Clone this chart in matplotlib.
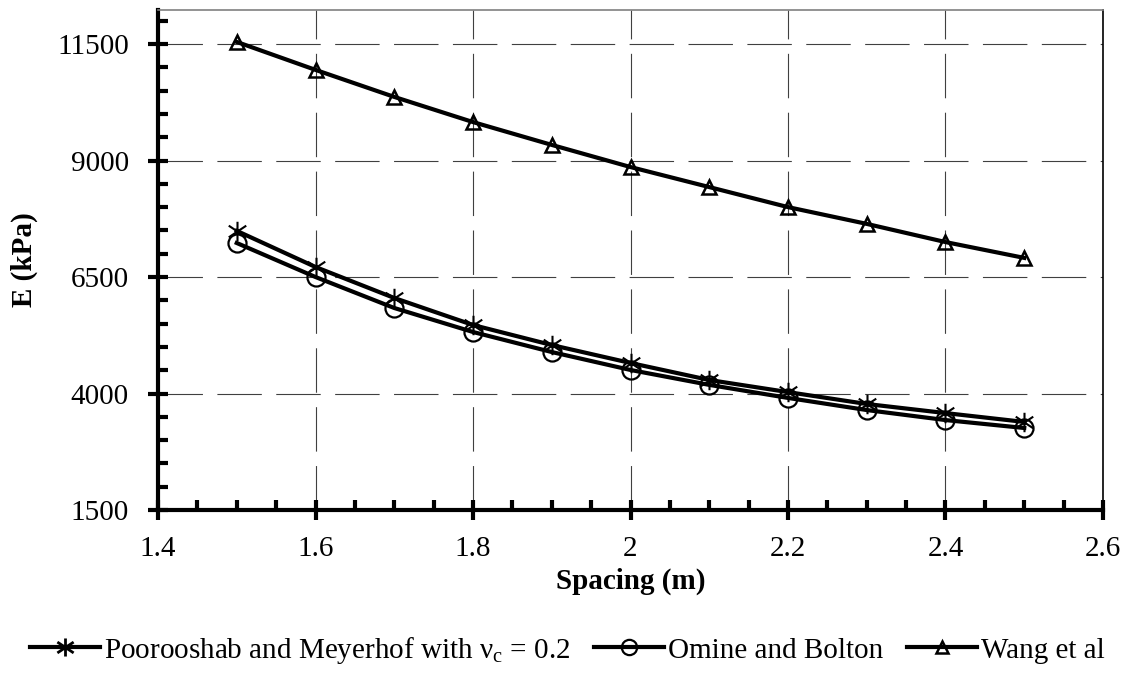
import matplotlib
matplotlib.use("Agg")
import matplotlib.pyplot as plt
from matplotlib.path import Path
from matplotlib.ticker import MultipleLocator

plt.rcParams['font.family'] = ['Liberation Serif', 'DejaVu Serif']
plt.rcParams['mathtext.fontset'] = 'stix'

spacing = [1.5, 1.6, 1.7, 1.8, 1.9, 2.0, 2.1, 2.2, 2.3, 2.4, 2.5]
poorooshab = [7490, 6715, 6050, 5470, 5040, 4655, 4290, 4030, 3775, 3580, 3390]
omine = [7230, 6500, 5835, 5320, 4890, 4505, 4185, 3905, 3645, 3430, 3260]
wang = [11545, 10945, 10365, 9825, 9335, 8860, 8430, 8000, 7640, 7250, 6910]

y_ticks = [1500, 4000, 6500, 9000, 11500]
x_ticks = [1.4, 1.6, 1.8, 2.0, 2.2, 2.4, 2.6]
x_ticklabels = ['1.4', '1.6', '1.8', '2', '2.2', '2.4', '2.6']

labels = [r"Poorooshab and Meyerhof with $\mathregular{\nu_c}$ = 0.2",
          "Omine and Bolton", "Wang et al"]

star = Path([(0, -1), (0, 1), (-0.9, -0.6), (0.9, 0.6), (-0.9, 0.6), (0.9, -0.6)],
            [Path.MOVETO, Path.LINETO, Path.MOVETO, Path.LINETO, Path.MOVETO, Path.LINETO])

fig = plt.figure(figsize=(11.35, 6.77), dpi=100)
ax = fig.add_axes([158/1135, 1 - 510/677, (1103-158)/1135, 500/677])

lw = 3.0
ax.plot(spacing, poorooshab, color='black', lw=lw, marker=star, markersize=14,
        markerfacecolor='none', markeredgewidth=1.5, label=labels[0], zorder=3)
ax.plot(spacing, omine, color='black', lw=lw, marker='o', markersize=13,
        markerfacecolor='none', markeredgewidth=1.6, label=labels[1], zorder=3)
ax.plot(spacing, wang, color='black', lw=lw, marker='^', markersize=10,
        markerfacecolor='none', markeredgewidth=1.8, label=labels[2], zorder=3)

ax.set_xlim(1.4, 2.6)
ax.set_ylim(1500, 12230)
ax.set_xticks(x_ticks)
ax.set_xticklabels(x_ticklabels)
ax.xaxis.set_minor_locator(MultipleLocator(0.05))
ax.set_yticks(y_ticks)
ax.set_yticklabels([str(v) for v in y_ticks])
ax.yaxis.set_minor_locator(MultipleLocator(500))

ax.grid(True, which='major', color='#404040', lw=0.8, dashes=(40, 13))

for s in ['left', 'bottom']:
    ax.spines[s].set_linewidth(3)
    ax.spines[s].set_color('black')
ax.spines['top'].set_color('#808080')
ax.spines['top'].set_linewidth(1.2)
ax.spines['right'].set_color('black')
ax.spines['right'].set_linewidth(1.2)

ax.tick_params(which='major', direction='inout', length=14, width=3, labelsize=21,
               color='black')
ax.tick_params(axis='y', which='major', pad=14)
ax.tick_params(axis='x', which='major', pad=12)
ax.tick_params(which='minor', direction='in', length=7, width=3, color='black')
ax.tick_params(top=False, right=False, which='both')

ax.set_xlabel('Spacing (m)', fontsize=21, fontweight='bold', labelpad=4)
ax.set_ylabel('E (kPa)', fontsize=21, fontweight='bold', labelpad=14)

leg = fig.legend(loc='center', bbox_to_anchor=(0.5, 1 - 650/677), ncol=3,
                 frameon=False, fontsize=21, handlelength=2.4, handletextpad=0.15,
                 columnspacing=0.8)
for h, ms, mew in zip(leg.legend_handles, [13, 11, 9], [2.0, 1.6, 1.8]):
    h.set_markersize(ms)
    h.set_markeredgewidth(mew)

fig.savefig('out.png', dpi=100)
